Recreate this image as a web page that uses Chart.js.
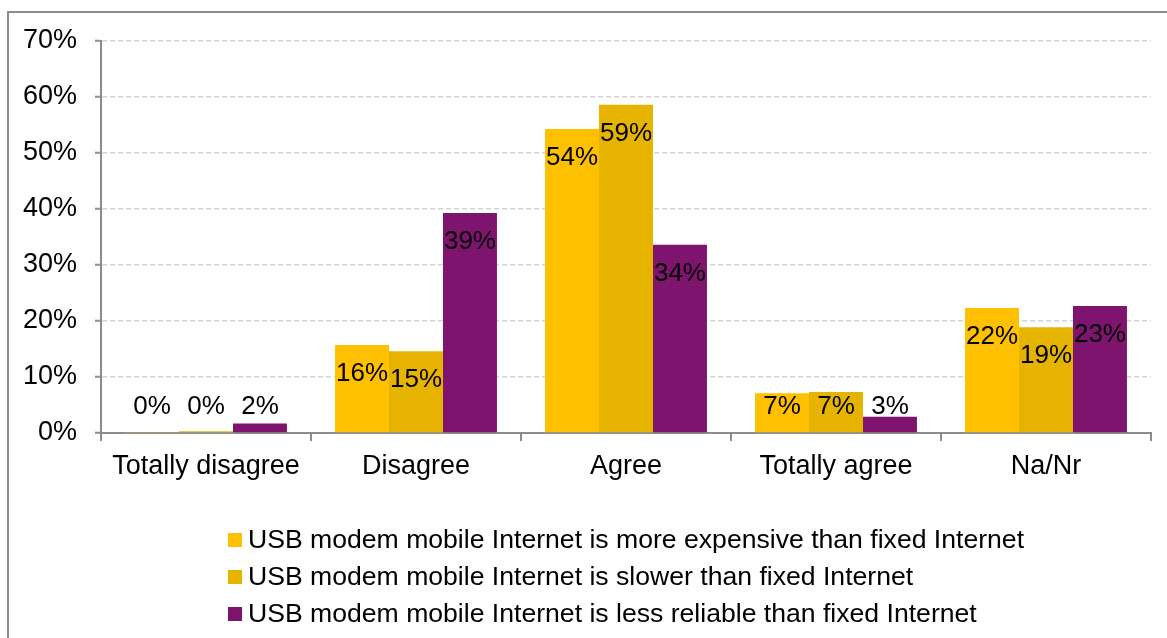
<!DOCTYPE html>
<html>
<head>
<meta charset="utf-8">
<script src="https://cdn.jsdelivr.net/npm/chart.js@4/dist/chart.umd.min.js"></script>
<style>
  html, body { margin: 0; padding: 0; background: #fff; }
  #wrap { position: relative; width: 1167px; height: 638px; overflow: hidden; }
  #frame { position: absolute; left: 7px; top: 11px; width: 1200px; height: 700px;
           border-left: 2px solid #8c8c8c; border-top: 2px solid #8c8c8c; box-sizing: border-box; }
  canvas { position: absolute; left: 0; top: 0; }
</style>
</head>
<body>
<div id="wrap">
  <div id="frame"></div>
  <canvas id="c" width="1167" height="638"></canvas>
</div>
<script>
const categories = ["Totally disagree", "Disagree", "Agree", "Totally agree", "Na/Nr"];
const seriesNames = [
  "USB modem mobile Internet is more expensive than fixed Internet",
  "USB modem mobile Internet is slower than fixed Internet",
  "USB modem mobile Internet is less reliable than fixed Internet"
];
const moreExpensive = [0.2, 15.7, 54.3, 7.1, 22.3];
const slower = [0.3, 14.6, 58.6, 7.3, 18.9];
const lessReliable = [1.7, 39.3, 33.6, 2.9, 22.7];
const seriesColors = ["#FFC000", "#E6B400", "#7F146F"];
const yTicks = [0, 10, 20, 30, 40, 50, 60, 70];

const FONT = '"Liberation Sans", Arial, sans-serif';

const labelPlugin = {
  id: 'barLabels',
  afterDatasetsDraw(chart) {
    const ctx = chart.ctx;
    ctx.save();
    ctx.font = '26px ' + FONT;
    ctx.fillStyle = '#000';
    ctx.textAlign = 'center';
    ctx.textBaseline = 'middle';
    chart.data.datasets.forEach((ds, di) => {
      const meta = chart.getDatasetMeta(di);
      meta.data.forEach((bar, i) => {
        const y = Math.min(bar.y + 29, bar.base - 25);
        ctx.fillText(Math.round(ds.data[i]) + '%', bar.x, y);
      });
    });
    ctx.restore();
  }
};

const legendPlugin = {
  id: 'customLegend',
  afterDraw(chart) {
    const ctx = chart.ctx;
    ctx.save();
    ctx.font = '26.6px ' + FONT;
    ctx.textBaseline = 'middle';
    ctx.textAlign = 'left';
    chart.data.datasets.forEach((ds, i) => {
      const cy = 540 + 37 * i;
      ctx.fillStyle = ds.backgroundColor;
      ctx.fillRect(228, cy - 7, 14, 14);
      ctx.fillStyle = '#000';
      ctx.fillText(ds.label, 248, cy + 1);
    });
    ctx.restore();
  }
};

new Chart(document.getElementById('c'), {
  type: 'bar',
  data: {
    labels: categories,
    datasets: [
      { label: seriesNames[0], data: moreExpensive, backgroundColor: seriesColors[0] },
      { label: seriesNames[1], data: slower, backgroundColor: seriesColors[1] },
      { label: seriesNames[2], data: lessReliable, backgroundColor: seriesColors[2] }
    ]
  },
  options: {
    responsive: false,
    animation: false,
    devicePixelRatio: 1,
    layout: { padding: { top: 41, right: 16, bottom: 145, left: 0 } },
    datasets: { bar: { categoryPercentage: 0.771, barPercentage: 1.0 } },
    plugins: { legend: { display: false }, tooltip: { enabled: false }, title: { display: false } },
    scales: {
      x: {
        afterFit(scale) { scale.height = 60; },
        grid: { drawOnChartArea: false, offset: true, tickLength: 8, tickColor: '#8c8c8c', lineWidth: 2 },
        border: { color: '#8c8c8c', width: 2 },
        ticks: { color: '#000', font: { family: FONT, size: 27 }, padding: 9, maxRotation: 0 }
      },
      y: {
        min: 0, max: 70,
        afterFit(scale) { scale.width = 101; },
        afterBuildTicks(scale) { scale.ticks = yTicks.map(v => ({ value: v })); },
        grid: {
          color: (c) => (c.tick && c.tick.value === 0) ? 'rgba(0,0,0,0)' : '#d4d4d4',
          lineWidth: 1.5,
          tickLength: 6, tickColor: '#8c8c8c', tickWidth: 2
        },
        border: { color: '#8c8c8c', width: 2, dash: [5, 3] },
        ticks: { color: '#000', font: { family: FONT, size: 27 }, padding: 18,
                 callback: (v) => v + '%' }
      }
    }
  },
  plugins: [labelPlugin, legendPlugin]
});
</script>
</body>
</html>
